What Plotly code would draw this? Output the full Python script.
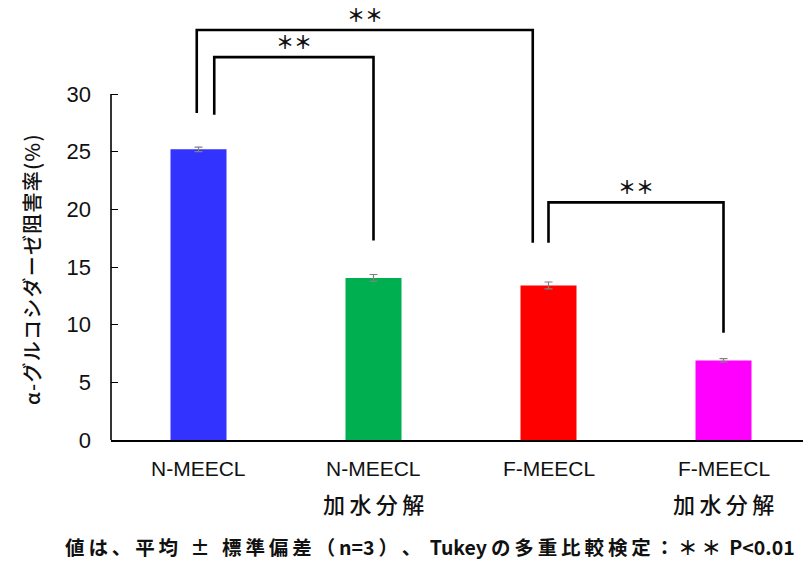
import plotly.graph_objects as go

# Inhibition data (mean ± SD, n=3)
names = ["N-MEECL", "N-MEECL", "F-MEECL", "F-MEECL"]
treatments = ["", "加水分解", "", "加水分解"]
means = [25.2, 14.05, 13.4, 6.9]
sds = [0.2, 0.3, 0.3, 0.15]
colors = ["#3333FF", "#00B050", "#FF0000", "#FF00FF"]
yticks = [0, 5, 10, 15, 20, 25, 30]
y_title = "α-グルコシダーゼ阻害率(%)"
footnote = "値は、平均 ± 標準偏差（n=3）、 Tukeyの多重比較検定：＊＊ P<0.01"

# Significance brackets: (left index, right index, bar-top y, left leg end, right leg end, left offset, right offset)
brackets = [
    (0, 2, 35.55, 28.35, 17.1, -0.01, -0.09),
    (0, 1, 33.2, 28.2, 17.3, 0.09, 0.0),
    (2, 3, 20.6, 17.1, 9.3, 0.0, 0.0),
]

W, H = 803, 561
ML, MR, MT, MB = 111, 0, 10, 121
plot_w = W - ML - MR
plot_h = H - MT - MB


def px_x(p):
    return (p - ML) / plot_w


def px_y(p):
    return (H - MB - p) / plot_h


def spaced(s, sep="\u2009", wide_only=False):
    # widen character pitch with thin spaces (optionally only around full-width glyphs)
    out = s[0]
    for a, b in zip(s, s[1:]):
        if not wide_only or ord(a) > 127 or ord(b) > 127:
            out += sep
        out += b
    return out


x = list(range(len(names)))
ink = "#111111"
jp = "Noto Sans CJK JP"

fig = go.Figure()
fig.add_trace(go.Bar(
    x=x, y=means, width=0.32,
    marker=dict(color=colors, line=dict(width=0)),
    error_y=dict(type="data", array=sds, visible=True, color="#808080", thickness=1.2, width=4),
    showlegend=False,
))

shapes = []
annotations = []
for i, j, top, yl, yr, ol, orr in brackets:
    xl = i + ol
    xr = j + orr
    shapes.append(dict(
        type="path", xref="x", yref="y",
        path=f"M {xl},{yl} L {xl},{top} L {xr},{top} L {xr},{yr}",
        line=dict(color="black", width=2.6),
    ))
    annotations.append(dict(
        x=(xl + xr) / 2, y=top, xref="x", yref="y", yanchor="bottom",
        text="＊＊", showarrow=False, yshift=1,
        font=dict(size=18, color=ink, family=jp, weight=700),
    ))

# y axis line limited to 0–30
shapes.append(dict(type="line", xref="paper", yref="y", x0=0, x1=0, y0=0, y1=30,
                   line=dict(color="black", width=1.6)))

# category labels (two lines)
for xi, name, sub in zip(x, names, treatments):
    annotations.append(dict(
        x=xi, y=px_y(468), xref="x", yref="paper", text=name, showarrow=False,
        yanchor="middle", font=dict(size=21, color=ink, family="Liberation Sans"),
    ))
    if sub:
        annotations.append(dict(
            x=xi, y=px_y(503), xref="x", yref="paper", text=spaced(sub), showarrow=False,
            yanchor="middle", font=dict(size=22, color=ink, family=jp, weight=500),
        ))

# y axis title
annotations.append(dict(
    x=px_x(31), y=px_y(270), xref="paper", yref="paper", textangle=-90,
    text=spaced(y_title, sep="\u200a"), showarrow=False, xanchor="center", yanchor="middle",
    font=dict(size=20, color=ink, family=jp, weight=500),
))

# footnote
annotations.append(dict(
    x=px_x(797), y=px_y(546), xref="paper", yref="paper",
    text=spaced(footnote, wide_only=True), showarrow=False, xanchor="right", yanchor="middle",
    font=dict(size=19.5, color=ink, family=jp, weight=700),
))

fig.update_layout(
    width=W, height=H,
    margin=dict(l=ML, r=MR, t=MT, b=MB),
    plot_bgcolor="white", paper_bgcolor="white",
    xaxis=dict(
        range=[-0.5, -0.5 + plot_w / 175], tickvals=x, showticklabels=False,
        showline=True, linecolor="black", linewidth=1.6, ticks="",
        showgrid=False, zeroline=False, fixedrange=True,
    ),
    yaxis=dict(
        range=[0, plot_h / (346 / 30)], tickvals=yticks, ticks="inside", ticklen=7,
        tickcolor="black", tickwidth=1.4, showline=False, showgrid=False, zeroline=False,
        tickfont=dict(size=22, color=ink, family="Liberation Sans"),
        ticklabelstandoff=19, fixedrange=True,
    ),
    shapes=shapes,
    annotations=annotations,
)

fig.write_html("out.html")
